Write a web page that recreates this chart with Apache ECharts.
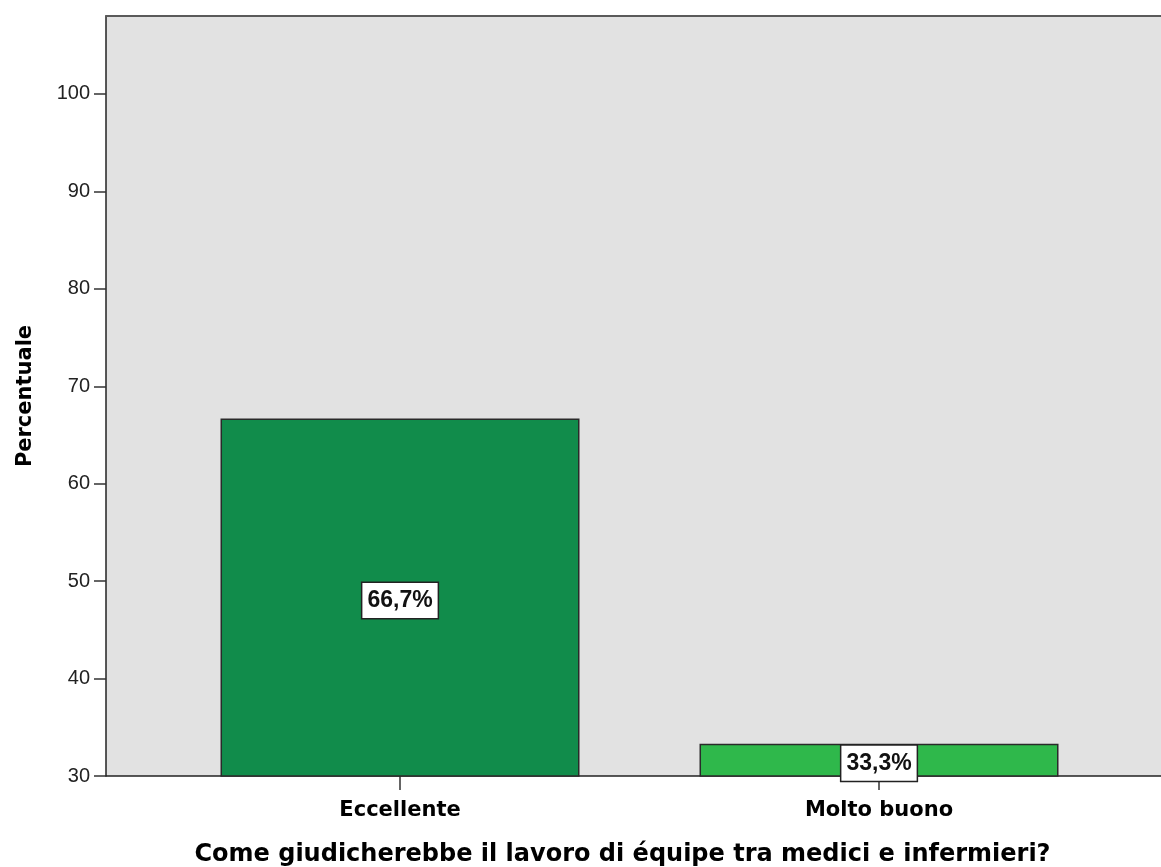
<!DOCTYPE html>
<html>
<head>
<meta charset="utf-8">
<script src="https://cdn.jsdelivr.net/npm/echarts@6/dist/echarts.min.js"></script>
<style>
  html, body { margin: 0; padding: 0; background: #ffffff; }
  #chart { width: 1161px; height: 867px; }
</style>
</head>
<body>
<div id="chart"></div>
<script>
// Categories and their percentages
const categories = ['Eccellente', 'Molto buono'];
const percentages = [66.7, 33.3];
const barColors = ['#118c4b', '#2fb84b'];
const yTicks = [30, 40, 50, 60, 70, 80, 90, 100];
const categoryPositions = [1, 2];

const chart = echarts.init(document.getElementById('chart'));

const plainFont = '"Liberation Sans", Arial, sans-serif';
const wideBold = '"DejaVu Sans", sans-serif';

chart.setOption({
  backgroundColor: '#ffffff',
  animation: false,
  grid: {
    left: 106,
    top: 16,
    right: 0,
    bottom: 91,
    outerBoundsMode: 'none',
    show: true,
    backgroundColor: '#e2e2e2',
    borderWidth: 0
  },
  xAxis: [{
    type: 'value',
    min: 0.3862,
    max: 2.5887,
    name: 'Come giudicherebbe il lavoro di équipe tra medici e infermieri?',
    nameLocation: 'middle',
    nameGap: 67,
    nameTextStyle: {
      fontFamily: wideBold,
      fontWeight: 'bold',
      fontSize: 24,
      color: '#000000',
      padding: [0, 22, 0, 0]
    },
    splitLine: { show: false },
    axisLine: { show: true, lineStyle: { color: '#222222', width: 1.5 } },
    axisTick: {
      show: true,
      length: 14,
      lineStyle: { color: '#333333', width: 1.5 },
      customValues: categoryPositions
    },
    axisLabel: {
      customValues: categoryPositions,
      margin: 24,
      fontFamily: wideBold,
      fontWeight: 'bold',
      fontSize: 21,
      color: '#000000',
      formatter: function (v) {
        const i = categoryPositions.indexOf(Math.round(v));
        return i >= 0 ? categories[i] : '';
      }
    }
  }, {
    // top edge of the plot frame
    type: 'value',
    position: 'top',
    min: 0.3862,
    max: 2.5887,
    splitLine: { show: false },
    axisLine: { show: true, lineStyle: { color: '#5a5a5a', width: 2 } },
    axisTick: { show: false },
    axisLabel: { show: false }
  }],
  yAxis: {
    type: 'value',
    min: 30,
    max: 108,
    name: 'Percentuale',
    nameLocation: 'middle',
    nameGap: 70,
    nameTextStyle: {
      fontFamily: wideBold,
      fontWeight: 'bold',
      fontSize: 21,
      color: '#000000'
    },
    splitLine: { show: false },
    axisLine: { show: true, lineStyle: { color: '#222222', width: 1.5 } },
    axisTick: {
      show: true,
      length: 12,
      lineStyle: { color: '#333333', width: 1.5 },
      customValues: yTicks
    },
    axisLabel: {
      customValues: yTicks,
      margin: 16,
      fontFamily: plainFont,
      fontSize: 20,
      color: '#222222'
    }
  },
  series: [{
    type: 'bar',
    xAxisIndex: 0,
    barWidth: 359,
    data: percentages.map(function (v, i) {
      return {
        value: [categoryPositions[i], v],
        itemStyle: { color: barColors[i] }
      };
    }),
    itemStyle: { borderColor: '#2a2a2a', borderWidth: 1.5 },
    label: {
      show: true,
      position: 'inside',
      offset: [0, 3],
      formatter: function (p) {
        return p.value[1].toFixed(1).replace('.', ',') + '%';
      },
      fontFamily: plainFont,
      fontWeight: 'bold',
      fontSize: 23,
      color: '#111111',
      backgroundColor: '#ffffff',
      borderColor: '#222222',
      borderWidth: 1.5,
      padding: [7, 5, 5, 5]
    }
  }]
});
</script>
</body>
</html>
